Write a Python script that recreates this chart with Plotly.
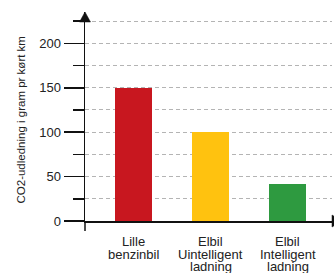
import plotly.graph_objects as go

categories = ["Lille<br>benzinbil", "Elbil<br>Uintelligent<br>ladning", "Elbil<br>Intelligent<br>ladning"]
values = [150, 100, 42]
colors = ["#C8171F", "#FFC20F", "#2E9A40"]
y_tickvals = [0, 50, 100, 150, 200]
y_title = "CO2-udledning i gram pr kørt km"

FONT = "Liberation Sans Narrow, Arial Narrow, Liberation Sans, Arial, sans-serif"
W, H = 334, 273
L, R, T, B = 85, 2, 12, 52
pw, ph = W - L - R, H - T - B
GRID = "#b4b4b4"
DASH = "4px,3px"

fig = go.Figure(go.Bar(
    x=list(range(len(categories))), y=values, marker_color=colors,
    marker_line_width=0, width=0.48,
))

fig.update_layout(
    width=W, height=H, margin=dict(l=L, r=R, t=T, b=B, pad=0, autoexpand=False),
    plot_bgcolor="white", paper_bgcolor="white", showlegend=False,
    font=dict(family=FONT, size=13, color="#222"),
    bargap=0,
)
fig.update_xaxes(
    range=[-0.63, 2.578], tickvals=list(range(len(categories))), showticklabels=False,
    showline=True, linecolor="#111", linewidth=1.5, showgrid=False, zeroline=False,
    ticks="", automargin=False,
)
fig.update_yaxes(
    range=[0, 235.3], tickvals=y_tickvals, showline=True, linecolor="#111", linewidth=1.5,
    ticks="outside", ticklen=20, tickwidth=1.5, tickcolor="#111",
    showgrid=True, gridcolor=GRID, gridwidth=1, griddash=DASH, zeroline=False,
    tickfont=dict(size=13, family=FONT, color="#222"), automargin=False,
    minor=dict(dtick=25, tick0=0, ticks="outside", ticklen=11, tickwidth=1.5, tickcolor="#111",
               showgrid=True, gridcolor=GRID, gridwidth=1, griddash=DASH),
)

# category labels, one annotation per line for tight line spacing
line_shifts = [-20.5, -33, -45.5]
for i, cat in enumerate(categories):
    for j, part in enumerate(cat.split("<br>")):
        fig.add_annotation(text=part, x=i, xref="x", y=0, yref="paper", yshift=line_shifts[j],
                           showarrow=False, xanchor="center", yanchor="middle",
                           font=dict(size=13, family=FONT, color="#222"))

# axis extensions and arrowheads (paper coordinates)
ext_x = 20 / pw
ext_y = 10 / ph
fig.add_shape(type="line", xref="paper", yref="paper", x0=-ext_x, x1=0, y0=0, y1=0,
              line=dict(color="#111", width=1.5))
fig.add_shape(type="line", xref="paper", yref="paper", x0=0, x1=0, y0=-ext_y, y1=0,
              line=dict(color="#111", width=1.5))
ah_w = 5.5 / pw
ah_h = 10 / ph
fig.add_shape(type="path", xref="paper", yref="paper",
              path=f"M {-ah_w} {1-ah_h} L {ah_w} {1-ah_h} L 0 1 Z",
              fillcolor="#111", line=dict(color="#111", width=0.5))
ar_w = 10 / pw
ar_h = 6 / ph
fig.add_shape(type="path", xref="paper", yref="paper",
              path=f"M 1 {-ar_h} L 1 {ar_h} L {1+ar_w} 0 Z",
              fillcolor="#111", line=dict(color="#111", width=0.5))

fig.add_annotation(text=y_title, xref="paper", yref="paper", x=(20 - L) / pw, y=(221 - 120.5) / ph,
                   textangle=-90, showarrow=False, xanchor="center", yanchor="middle",
                   font=dict(size=11.5, family=FONT, color="#222"))

fig.write_html("out.html", config={"displayModeBar": False, "staticPlot": True},
               post_script="document.body.style.margin='0';document.body.style.overflow='hidden';")
